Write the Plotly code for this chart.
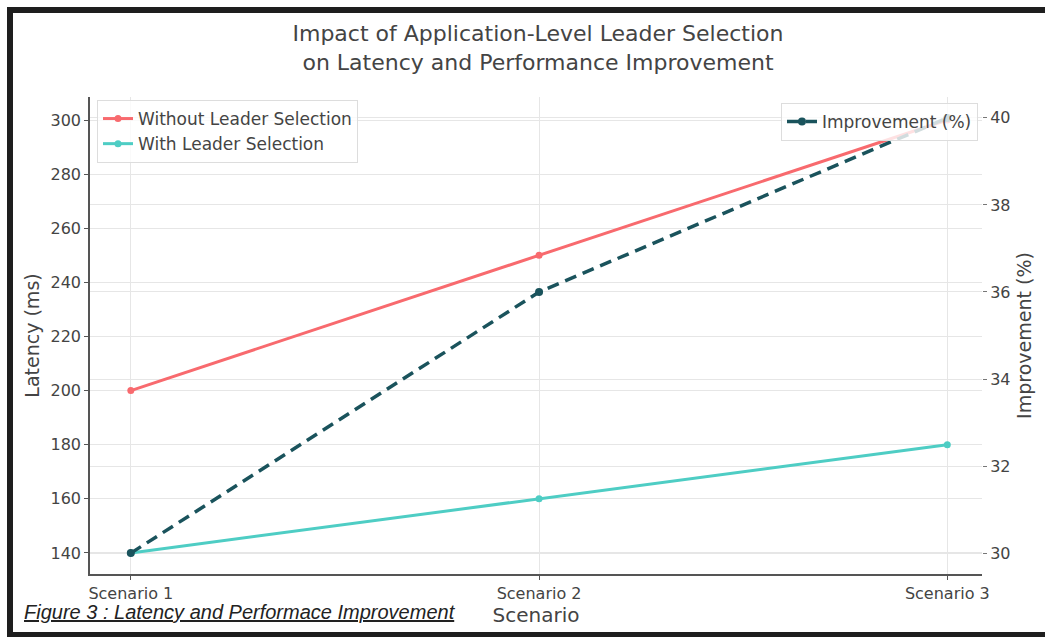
import plotly.graph_objects as go

scenarios = ["Scenario 1", "Scenario 2", "Scenario 3"]
latency_without = [200, 250, 300]
latency_with = [140, 160, 180]
improvement = [30, 36, 40]

left_ticks = [140, 160, 180, 200, 220, 240, 260, 280, 300]
right_ticks = [30, 32, 34, 36, 38, 40]

RED = "#F86A6E"
TEAL = "#4ECDC4"
DARK = "#1A535C"
TXT = "#444444"
GRID = "#E6E6E6"
FONT = "DejaVu Sans"

L, R, T, B = 90, 63, 97, 63
W, H = 1045, 637
pw, ph = W - L - R, H - T - B

def px(x):
    return (x - L) / pw

def py(y):
    return (H - B - y) / ph

fig = go.Figure()
fig.add_trace(go.Scatter(
    x=[0, 1, 2], y=latency_without, name="Without Leader Selection",
    mode="lines+markers", line=dict(color=RED, width=3),
    marker=dict(size=7, color=RED), legend="legend", yaxis="y",
))
fig.add_trace(go.Scatter(
    x=[0, 1, 2], y=latency_with, name="With Leader Selection",
    mode="lines+markers", line=dict(color=TEAL, width=3),
    marker=dict(size=7, color=TEAL), legend="legend", yaxis="y",
))
fig.add_trace(go.Scatter(
    x=[0, 1, 2], y=improvement, name="Improvement (%)",
    mode="lines+markers", line=dict(color=DARK, width=3.5, dash="12px,7px"),
    marker=dict(size=8, color=DARK), legend="legend2", yaxis="y2",
))

fig.update_layout(
    width=W, height=H,
    margin=dict(l=L, r=R, t=T, b=B),
    paper_bgcolor="white", plot_bgcolor="rgba(0,0,0,0)",
    font=dict(family=FONT, color=TXT, size=16),
    title=dict(
        text="Impact of Application-Level Leader Selection<br>on Latency and Performance Improvement",
        x=px(538), xref="paper", xanchor="center",
        y=1 - 41 / H, yanchor="middle",
        font=dict(family=FONT, size=22, color=TXT),
    ),
    xaxis=dict(
        range=[-0.1, 2.085], tickvals=[0, 1, 2], ticktext=scenarios,
        showgrid=True, gridcolor=GRID, gridwidth=1, zeroline=False,
        showline=True, linecolor="#555555", linewidth=1.5,
        ticks="outside", ticklen=4, tickcolor="#555555",
        tickfont=dict(size=16, color=TXT),
        title=dict(text="Scenario", font=dict(size=20, color=TXT), standoff=6),
    ),
    yaxis=dict(
        range=[132.2, 308.5], tickvals=left_ticks,
        showgrid=True, gridcolor=GRID, gridwidth=1, zeroline=False,
        showline=True, linecolor="#555555", linewidth=1.5,
        ticks="outside", ticklen=4, tickcolor="#555555",
        tickfont=dict(size=16, color=TXT),
        title=dict(text="Latency (ms)", font=dict(size=19, color=TXT), standoff=6),
    ),
    yaxis2=dict(
        range=[29.52, 40.48], tickvals=right_ticks, overlaying="y", side="right",
        showgrid=True, gridcolor=GRID, gridwidth=1, zeroline=False,
        showline=False,
        ticks="outside", ticklen=4, tickcolor="#777777",
        tickfont=dict(size=16, color=TXT),
        title=dict(text="Improvement (%)", font=dict(size=19, color=TXT), standoff=8),
    ),
    legend=dict(
        x=px(97), y=py(100), xanchor="left", yanchor="top",
        bgcolor="rgba(255,255,255,0.8)", bordercolor="#DDDDDD", borderwidth=1,
        font=dict(size=17, color=TXT), tracegroupgap=2,
    ),
    legend2=dict(
        x=px(978), y=py(103), xanchor="right", yanchor="top",
        bgcolor="rgba(255,255,255,0.8)", bordercolor="#DDDDDD", borderwidth=1,
        font=dict(size=17, color=TXT),
    ),
    showlegend=True,
)

fig.add_annotation(
    text="<i><u>Figure 3 : Latency and Performace Improvement</u></i>",
    xref="paper", yref="paper", x=px(22), y=py(612),
    xanchor="left", yanchor="middle", showarrow=False,
    font=dict(family="Liberation Sans", size=20, color="#222222"),
)

fig.add_shape(
    type="rect", xref="paper", yref="paper",
    x0=px(10), x1=px(1052), y0=py(635), y1=py(10),
    line=dict(color="#1E1E1E", width=6), fillcolor="rgba(0,0,0,0)",
    layer="above",
)

fig.write_html(
    "out.html",
    config={"displayModeBar": False},
    post_script="document.body.style.margin='0';document.body.style.overflow='hidden';",
)
